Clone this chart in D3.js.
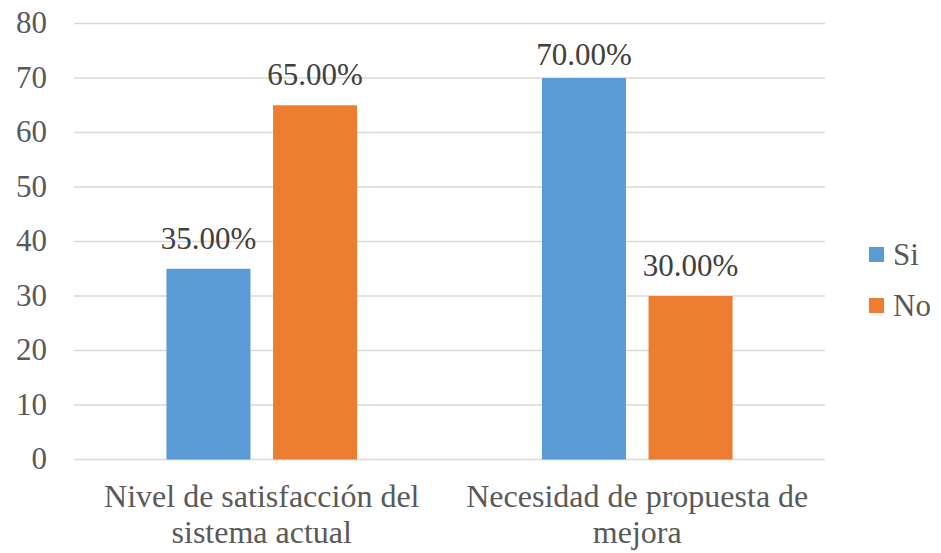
<!DOCTYPE html>
<html>
<head>
<meta charset="utf-8">
<script src="https://cdn.jsdelivr.net/npm/d3@7"></script>
<style>
  body { margin: 0; background: #fff; }
  svg text { font-family: "Liberation Serif", "Times New Roman", Times, Tinos, "DejaVu Serif", serif; }
</style>
</head>
<body>
<div id="chart"></div>
<script>
  // chart values
  let categories = [["Nivel de satisfacción del", "sistema actual"], ["Necesidad de propuesta de", "mejora"]];
  let series = ["Si", "No"];
  let siValues = [35, 70];
  let noValues = [65, 30];
  let yTicks = [0, 10, 20, 30, 40, 50, 60, 70, 80];
  let colors = ["#5B9BD5", "#ED7D31"];

  let serif = '"Liberation Serif", "Times New Roman", Times, Tinos, "DejaVu Serif", serif';

  window.onload = function() {
    let width = 941, height = 553;
    let margin = { top: 23.5, right: 116, bottom: 93.5, left: 74 };

    let svg = d3.select("#chart")
      .append("svg")
        .attr("width", width)
        .attr("height", height)
        .attr("font-family", serif);

    let values = [siValues, noValues];

    let x0 = d3.scaleBand()
      .domain(d3.range(categories.length))
      .range([margin.left, width - margin.right])
      .paddingInner(0.4924)
      .paddingOuter(0.2462);

    let x1 = d3.scaleBand()
      .domain(series)
      .range([0, x0.bandwidth()])
      .paddingInner(0.212);

    let yScale = d3.scaleLinear()
      .domain([0, 80])
      .range([height - margin.bottom, margin.top]);

    // gridlines
    svg.append("g")
      .selectAll("line")
      .data(yTicks)
      .enter()
      .append("line")
        .attr("x1", margin.left)
        .attr("x2", width - margin.right)
        .attr("y1", d => yScale(d))
        .attr("y2", d => yScale(d))
        .style("stroke", "#D9D9D9")
        .style("stroke-width", 1.5);

    // y axis labels
    let yAxis = svg.append("g")
      .attr("transform", "translate(" + (margin.left - 27) + ",0)")
      .call(d3.axisLeft(yScale).tickValues(yTicks).tickSize(0).tickPadding(0));
    yAxis.attr("font-family", serif);
    yAxis.select(".domain").remove();
    yAxis.selectAll("text")
      .attr("dy", "0.3em")
      .style("font-family", serif)
      .style("font-size", "31px")
      .style("fill", "#595959");

    // bars
    series.forEach(function(s, si) {
      let g = svg.append("g");
      g.selectAll("rect")
        .data(values[si])
        .enter()
        .append("rect")
          .attr("x", (d, i) => x0(i) + x1(s))
          .attr("y", d => yScale(d))
          .attr("width", x1.bandwidth())
          .attr("height", d => yScale(0) - yScale(d))
          .style("fill", colors[si]);

      // labels stay inside the chart area, like the original
      g.selectAll("text")
        .data(values[si])
        .enter()
        .append("text")
          .attr("x", (d, i) => x0(i) + x1(s) + x1.bandwidth() / 2)
          .attr("y", d => Math.max(yScale(d) - 20, 65))
          .attr("text-anchor", "middle")
          .style("font-family", serif)
          .style("font-size", "31px")
          .style("fill", "#404040")
          .text(d => d3.format(".2f")(d) + "%");
    });

    // category labels
    let cat = svg.append("g")
      .selectAll("text")
      .data(categories)
      .enter()
      .append("text")
        .attr("x", (d, i) => x0(i) + x0.bandwidth() / 2)
        .attr("y", 507)
        .attr("text-anchor", "middle")
        .style("font-family", serif)
        .style("font-size", "32px")
        .style("fill", "#595959");
    cat.selectAll("tspan")
      .data(d => d)
      .enter()
      .append("tspan")
        .attr("x", function() { return d3.select(this.parentNode).attr("x"); })
        .attr("dy", (d, i) => i === 0 ? 0 : 35.5)
        .text(d => d);

    // legend
    let legend = svg.append("g")
      .selectAll("g")
      .data(series)
      .enter()
      .append("g")
        .attr("transform", (d, i) => "translate(869," + (247 + i * 51) + ")");
    legend.append("rect")
      .attr("width", 15)
      .attr("height", 15)
      .style("fill", (d, i) => colors[i]);
    legend.append("text")
      .attr("x", 24)
      .attr("y", 18)
      .style("font-family", serif)
      .style("font-size", "31px")
      .style("fill", "#595959")
      .text(d => d);
  };
</script>
</body>
</html>
